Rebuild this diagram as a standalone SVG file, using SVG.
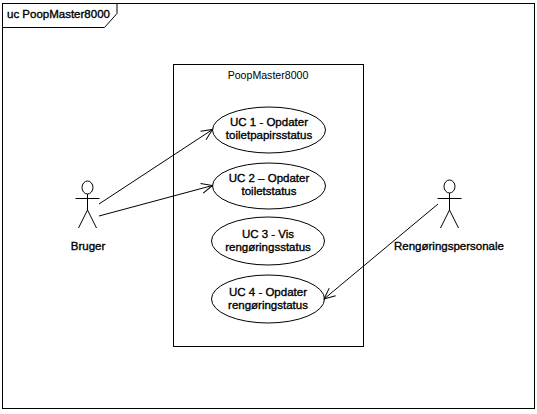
<svg xmlns="http://www.w3.org/2000/svg" width="537" height="414" viewBox="0 0 537 414">
<style>
text{font-family:"Liberation Sans",Arial,sans-serif;font-size:11.5px;fill:#000;text-anchor:middle}
.s{fill:none;stroke:#000;stroke-width:1}
.e{fill:#fff;stroke:#000;stroke-width:1}
.b{stroke:#000;stroke-width:0.35px}
</style>
<defs><marker id="open" markerWidth="14" markerHeight="12" refX="11" refY="5" orient="auto" markerUnits="userSpaceOnUse" overflow="visible"><path d="M0 0L11 5L0 10" fill="none" stroke="#000"/></marker></defs>
<rect width="537" height="414" fill="#fff"/>
<g id="frame"><rect class="s" x="2.500" y="3.500" width="532" height="405"/><path class="s" d="M2.500 27.500H104.500L117 13.500V3.500"/><text x="7" y="18" style="text-anchor:start" class="b">uc PoopMaster8000</text></g>
<g id="system"><rect class="s" x="173.500" y="64.500" width="190" height="282"/><text x="268" y="79" style="font-size:10.600px">PoopMaster8000</text></g>
<g id="uc1"><ellipse class="e" cx="269" cy="130" rx="56.500" ry="23"/><text class="b" x="269" y="126">UC 1 - Opdater</text><text class="b" x="269" y="139">toiletpapirsstatus</text></g>
<g id="uc2"><ellipse class="e" cx="269" cy="186" rx="56.500" ry="23"/><text class="b" x="269" y="182">UC 2 – Opdater</text><text class="b" x="269" y="195">toiletstatus</text></g>
<g id="uc3"><ellipse class="e" cx="268" cy="241" rx="56.500" ry="24"/><text class="b" x="268" y="238">UC 3 - Vis</text><text class="b" x="268" y="251">rengøringsstatus</text></g>
<g id="uc4"><ellipse class="e" cx="268" cy="299" rx="56.500" ry="24"/><text class="b" x="268" y="296">UC 4 - Opdater</text><text class="b" x="268" y="309">rengøringstatus</text></g>
<g id="bruger"><ellipse class="s" cx="87.500" cy="187.500" rx="5.500" ry="6.500"/><path class="s" d="M87.500 194V210M75.500 198.500H99.500M87.500 210L78.500 228M87.500 210L96.500 228"/><text class="b" x="88" y="249.500">Bruger</text></g>
<g id="rengoring"><ellipse class="s" cx="449.500" cy="186.500" rx="5.500" ry="6.500"/><path class="s" d="M449.500 193V210M437.500 198.500H461.500M449.500 210L440.500 228M449.500 210L458.500 228"/><text class="b" x="449" y="250">Rengøringspersonale</text></g>
<g id="connectors"><path class="s" d="M99 204L212.500 129.500" marker-end="url(#open)"/><path class="s" d="M99 216L212.500 185.500" marker-end="url(#open)"/><path class="s" d="M438 204L324 299" marker-end="url(#open)"/></g>
</svg>
